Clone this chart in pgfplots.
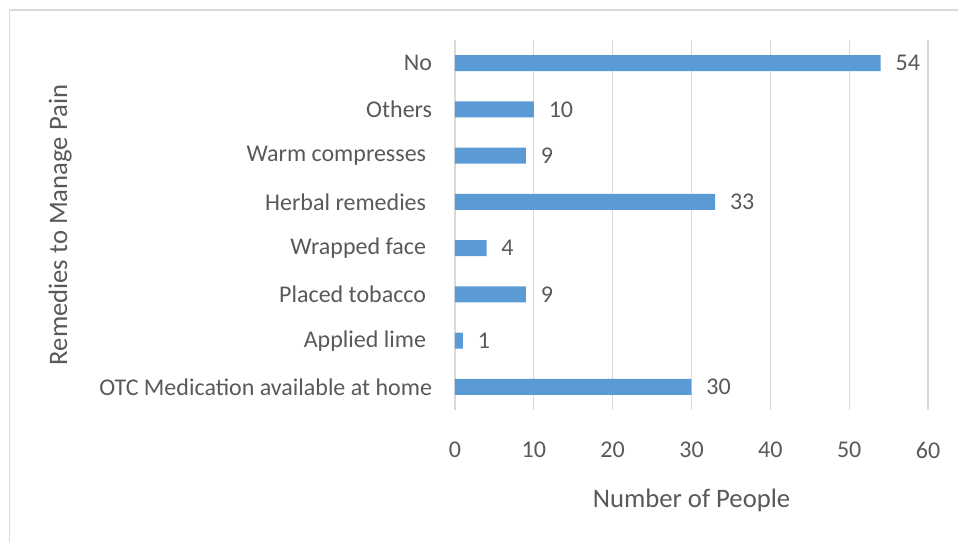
\documentclass[border=0pt]{standalone}
\usepackage{pgfplots}
\pgfplotsset{compat=1.18}
\usepackage{fontspec}
\setmainfont{Carlito}
\definecolor{barblue}{HTML}{5B9BD5}
\definecolor{txt}{HTML}{595959}
\definecolor{gridc}{HTML}{D9D9D9}
\begin{document}
\begin{tikzpicture}
\useasboundingbox (0,0) rectangle (718.5pt,406.5pt);
\draw[gridc, line width=1pt] (7.1pt,0) -- (7.1pt,399pt) -- (718.5pt,399pt);
\begin{axis}[
  at={(341.25pt,99pt)}, anchor=south west,
  scale only axis, width=354.75pt, height=277.5pt,
  xbar, bar width=12pt, clip=false,
  xmin=0, xmax=60, ymin=-0.5, ymax=7.5,
  xtick={0,10,...,60},
  ytick={0,...,7},
  yticklabels={OTC Medication available at home, Applied lime\kern4.5pt\null, Placed tobacco\kern4.5pt\null, Wrapped face\kern4.5pt\null, Herbal remedies\kern4.5pt\null, Warm compresses\kern4.5pt\null, Others, No},
  axis line style={draw=none},
  major tick length=0pt,
  xmajorgrids, grid style={gridc, line width=0.9pt},
  /pgf/number format/assume math mode=true,
  tick label style={font=\fontsize{18}{21}\selectfont, text=txt},
  xticklabel style={anchor=center, yshift=-30pt, inner sep=0pt},
  yticklabel style={anchor=east, xshift=-17pt, inner sep=0pt},
  xlabel={Number of People}, ylabel={Remedies to Manage Pain},
  every axis x label/.style={at={(axis description cs:0.5,-0.243)}, anchor=center, font=\fontsize{20}{24}\selectfont, text=txt},
  every axis y label/.style={at={(axis description cs:-0.835,0.5)}, rotate=90, anchor=center, font=\fontsize{20}{24}\selectfont, text=txt},
  nodes near coords,
  nodes near coords style={font=\fontsize{18}{21}\selectfont, text=txt, anchor=west, inner sep=0pt, xshift=11pt},
]
\addplot[fill=barblue, draw=none] coordinates {(30,0) (1,1) (9,2) (4,3) (33,4) (9,5) (10,6) (54,7)};
\end{axis}
\end{tikzpicture}
\end{document}
